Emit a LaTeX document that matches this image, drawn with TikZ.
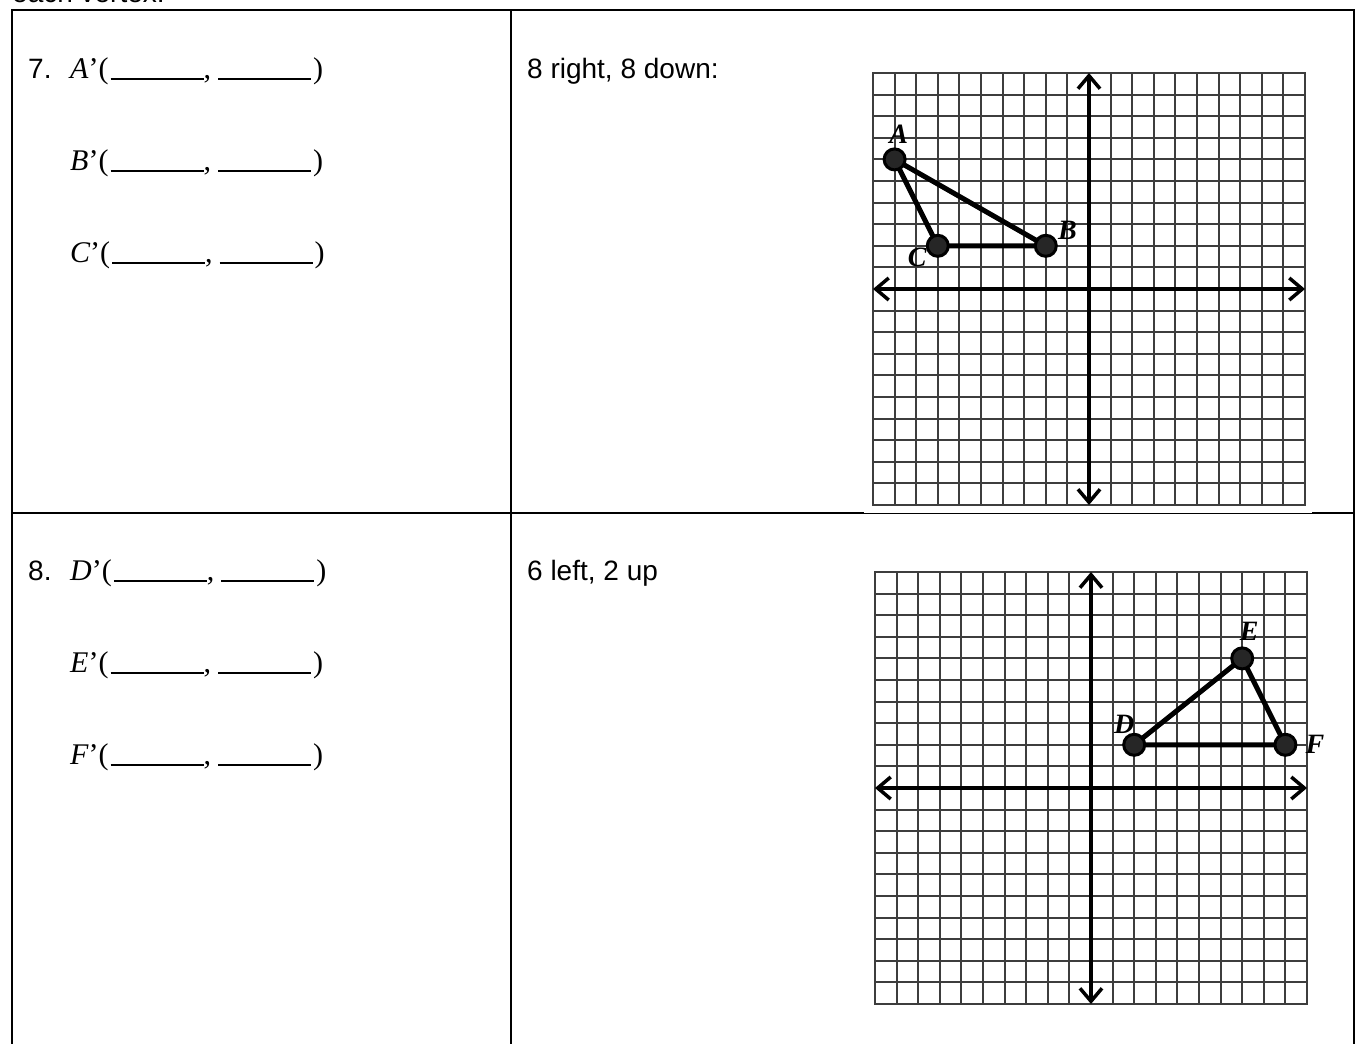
\documentclass[tikz,border=0pt]{standalone}
\usepackage{fontspec}
\setmainfont{Liberation Sans}
\newfontfamily\serifit{Liberation Serif}
\usetikzlibrary{arrows.meta, positioning}

% blank answer line
\newcommand\blank{\rule[-1.5pt]{93pt}{1.5pt}}
\newcommand\pair{(\hspace{2pt}\blank,\hspace{7pt}\blank\hspace{2pt})}
% one coordinate plane, -10..10
\newcommand\coordplane{%
  \foreach \i in {-10,...,10} {
    \draw[gridline] (\i,-10) -- (\i,10);
    \draw[gridline] (-10,\i) -- (10,\i);
  }
  \draw[axis] (-10,0) -- (10,0);
  \draw[axis] (0,-10) -- (0,10);}

\begin{document}
\begin{tikzpicture}[
  x=1pt, y=-1pt,
  every node/.style={font=\fontsize{28}{34}\selectfont, inner sep=0pt},
  frame/.style={line width=2pt, black},
  prompt/.style={anchor=base west},
  answer/.style={anchor=base west, font=\serifit\fontsize{30}{34}\selectfont},
  plane/.style={x=21.6pt, y=21.6pt},
  gridline/.style={black!76, line width=2pt, line cap=rect},
  axis/.style={line width=3.5pt,
               {Straight Barb[length=13pt,width=22pt]}-{Straight Barb[length=13pt,width=22pt]}},
  tri/.style={line width=5pt, line join=round},
  vdot/.style={circle, draw=black, fill=black!85, line width=3pt,
               minimum size=21pt, inner sep=0pt},
  vlab/.style={font=\serifit\bfseries\itshape\fontsize{28}{32}\selectfont},
]

\useasboundingbox (0,0) rectangle (1361,1044);

\def\xL{12} \def\xM{511} \def\xR{1354}
\def\yT{10} \def\yS{513} \def\yB{1050}
\def\xN{28} \def\xP{70} \def\xQ{527}

% Table lines
\draw[frame] (\xL,\yB) -- (\xL,\yT) -- (\xR,\yT) -- (\xR,\yB);
\draw[frame] (\xM,\yT) -- (\xM,\yB);
\draw[frame] (\xL,\yS) -- (\xR,\yS);

% Intro text, cut off at the top
\node[prompt] (intro) at (12,2) {each vertex.};

% Row 7
\node[prompt] (num7) at (\xN,78) {7.};
\node[answer] (ansA) at (\xP,78) {{\itshape A}’\pair};
\node[answer] (ansB) at (\xP,170) {{\itshape B}’\pair};
\node[answer] (ansC) at (\xP,262) {{\itshape C}’\pair};
\node[prompt] (rule7) at (\xQ,78) {8 right, 8 down:};

% Row 8
\node[prompt] (num8) at (\xN,580) {8.};
\node[answer] (ansD) at (\xP,580) {{\itshape D}’\pair};
\node[answer] (ansE) at (\xP,672) {{\itshape E}’\pair};
\node[answer] (ansF) at (\xP,764) {{\itshape F}’\pair};
\node[prompt] (rule8) at (\xQ,580) {6 left, 2 up};

% Plane 1 (white picture box hides part of the row line)
\fill[white] (864,60) rectangle (1312,512.6);
\begin{scope}[shift={(1089,289)}, plane]
  \coordplane
  \coordinate (A) at (-9,6);
  \coordinate (B) at (-2,2);
  \coordinate (C) at (-7,2);
  \draw[tri] (A) -- (B) -- (C) -- cycle;
  \node[vdot] (vA) at (A) {};
  \node[vdot] (vB) at (B) {};
  \node[vdot] (vC) at (C) {};
  \node[vlab, above=4pt of vA, xshift=4pt] (labA) {A};
  \node[vlab, right=0pt of vB, yshift=15pt] (labB) {B};
  \node[vlab, left=-1pt of vC, yshift=-12pt] (labC) {C};
\end{scope}

% Plane 2
\begin{scope}[shift={(1091,788)}, plane]
  \coordplane
  \coordinate (D) at (2,2);
  \coordinate (E) at (7,6);
  \coordinate (F) at (9,2);
  \draw[tri] (D) -- (E) -- (F) -- cycle;
  \node[vdot] (vD) at (D) {};
  \node[vdot] (vE) at (E) {};
  \node[vdot] (vF) at (F) {};
  \node[vlab, above=-1pt of vD, xshift=-10pt] (labD) {D};
  \node[vlab, above=6pt of vE, xshift=7pt] (labE) {E};
  \node[vlab, right=8pt of vF] (labF) {F};
\end{scope}

\end{tikzpicture}
\end{document}
